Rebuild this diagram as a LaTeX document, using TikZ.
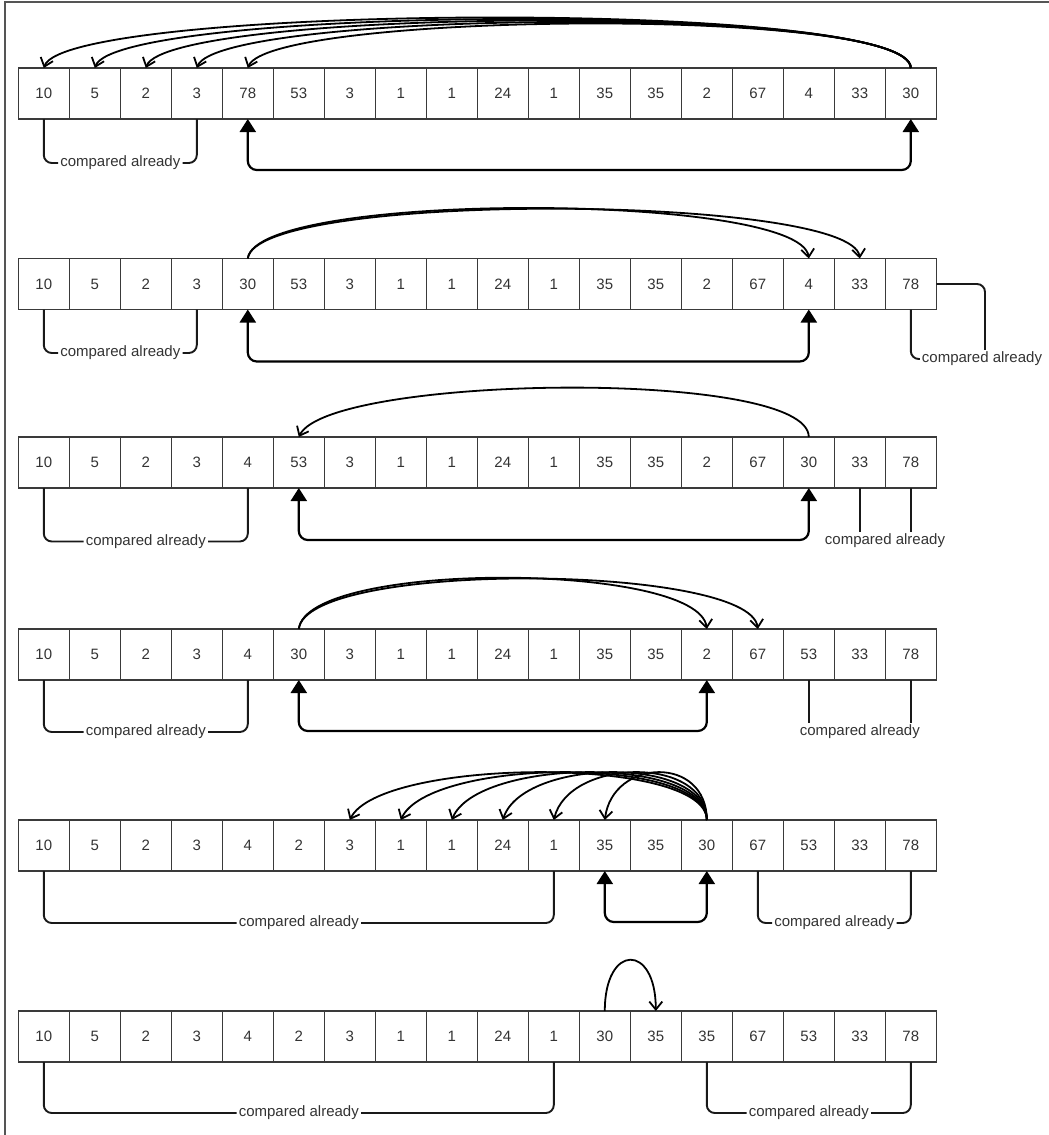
\documentclass[tikz,border=0pt]{standalone}
\usepackage{fontspec}
\setmainfont{Liberation Sans}
\usetikzlibrary{arrows.meta}
\definecolor{cellline}{HTML}{3A3A3A}
\definecolor{celltext}{HTML}{333333}
\definecolor{framegray}{HTML}{555555}
\tikzset{
  cell/.style={draw=cellline, line width=1.6pt, minimum width=51pt, minimum height=51pt,
    inner sep=0pt, outer sep=0pt, font=\fontsize{15}{18}\selectfont, text=celltext},
  lbl/.style={font=\fontsize{15}{18}\selectfont, text=celltext, inner sep=2pt},
  bracket/.style={draw=black!90, line width=1.9pt, rounded corners=8pt},
  swap/.style={draw=black, line width=2.2pt, rounded corners=9pt,
    {Triangle[length=13pt,width=16pt]}-{Triangle[length=13pt,width=16pt]}},
  jump/.style={draw=black, line width=1.8pt, -{Straight Barb[length=8pt,width=13pt]}},
}
\newcommand\cellrow[3]{%
  \foreach \v [count=\i from 0] in {#3} {\node[cell] (#1c\i) at (43.8+51*\i, #2) {\v};}}
\begin{document}
\begin{tikzpicture}[x=1pt, y=-1pt]
\useasboundingbox (0,0) rectangle (1049,1135);
\draw[framegray, line width=1.3pt] (5,1135) -- (5,2) -- (1049,2);

% ---------- row 1
\cellrow{a}{93.5}{10,5,2,3,78,53,3,1,1,24,1,35,35,2,67,4,33,30}
\foreach \k/\h in {0/70,1/68,2/66,3/64,4/62}
  \draw[jump] (ac17.north) .. controls +(0,-\h) and +(22,-\h+6) .. (ac\k.north);
\node[lbl] (al1) at (120.3,163) {compared already};
\draw[bracket] (ac0.south) |- (al1.west);
\draw[bracket] (ac3.south) |- (al1.east);
\draw[swap] (ac4.south) -- ++(0,51) -| (ac17.south);

% ---------- row 2
\cellrow{b}{284}{10,5,2,3,30,53,3,1,1,24,1,35,35,2,67,4,33,78}
\draw[jump] (bc4.north) .. controls +(8,-68) and +(-8,-66) .. (bc15.north);
\draw[jump] (bc4.north) .. controls +(8,-68) and +(-8,-64) .. (bc16.north);
\node[lbl] (bl1) at (120.3,353) {compared already};
\draw[bracket] (bc0.south) |- (bl1.west);
\draw[bracket] (bc3.south) |- (bl1.east);
\draw[swap] (bc4.south) -- ++(0,52) -| (bc15.south);
\node[lbl] (bl2) at (982,359) {compared already};
\draw[bracket] (bc17.south) |- (bl2.west);
\draw[bracket] (bc17.east) -| ([xshift=3pt]bl2.north);

% ---------- row 3
\cellrow{c}{462.5}{10,5,2,3,4,53,3,1,1,24,1,35,35,2,67,30,33,78}
\draw[jump] (cc15.north) .. controls +(0,-69) and +(30,-62) .. (cc5.north);
\node[lbl] (cl1) at (145.8,541.5) {compared already};
\draw[bracket] (cc0.south) |- (cl1.west);
\draw[bracket] (cc4.south) |- (cl1.east);
\draw[swap] (cc5.south) -- ++(0,52) -| (cc15.south);
\node[lbl] (cl2) at (885,541) {compared already};
\draw[bracket] (cc16.south) -- (cc16.south |- cl2.north);
\draw[bracket] (cc17.south) -- (cc17.south |- cl2.north);

% ---------- row 4
\cellrow{d}{654.5}{10,5,2,3,4,30,3,1,1,24,1,35,35,2,67,53,33,78}
\draw[jump] (dc5.north) .. controls +(8,-69) and +(-8,-67) .. (dc13.north);
\draw[jump] (dc5.north) .. controls +(8,-69) and +(-8,-65) .. (dc14.north);
\node[lbl] (dl1) at (145.8,732) {compared already};
\draw[bracket] (dc0.south) |- (dl1.west);
\draw[bracket] (dc4.south) |- (dl1.east);
\draw[swap] (dc5.south) -- ++(0,51) -| (dc13.south);
\node[lbl] (dl2) at (859.8,732) {compared already};
\draw[bracket] (dc15.south) -- (dc15.south |- dl2.north);
\draw[bracket] (dc17.south) -- (dc17.south |- dl2.north);

% ---------- row 5
\cellrow{e}{845.5}{10,5,2,3,4,2,3,1,1,24,1,35,35,30,67,53,33,78}
\foreach \k/\dx in {6/30,7/28,8/25,9/20,10/15,11/8}
  \draw[jump] (ec13.north) .. controls +(0,-65) and +(\dx,-62) .. (ec\k.north);
\node[lbl] (el1) at (298.8,923) {compared already};
\draw[bracket] (ec0.south) |- (el1.west);
\draw[bracket] (ec10.south) |- (el1.east);
\draw[swap] (ec11.south) -- ++(0,51) -| (ec13.south);
\node[lbl] (el2) at (834.3,923) {compared already};
\draw[bracket] (ec14.south) |- (el2.west);
\draw[bracket] (ec17.south) |- (el2.east);

% ---------- row 6
\cellrow{f}{1036.5}{10,5,2,3,4,2,3,1,1,24,1,30,35,35,67,53,33,78}
\draw[jump] (fc11.north) .. controls +(0,-68) and +(0,-68) .. (fc12.north);
\node[lbl] (fl1) at (298.8,1113) {compared already};
\draw[bracket] (fc0.south) |- (fl1.west);
\draw[bracket] (fc10.south) |- (fl1.east);
\node[lbl] (fl2) at (808.8,1113) {compared already};
\draw[bracket] (fc13.south) |- (fl2.west);
\draw[bracket] (fc17.south) |- (fl2.east);
\end{tikzpicture}
\end{document}
